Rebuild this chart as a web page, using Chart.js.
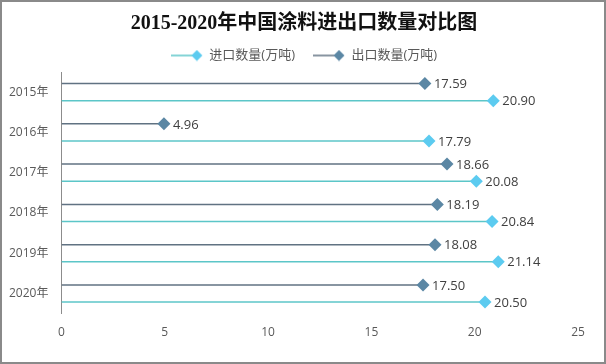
<!DOCTYPE html>
<html>
<head>
<meta charset="utf-8">
<script src="https://cdn.jsdelivr.net/npm/chart.js@4.4.1/dist/chart.umd.min.js"></script>
<style>
  body { margin: 0; background: #fff; }
  #wrap { width: 606px; height: 364px; box-sizing: border-box; border: 2px solid #8a8a8a; background: #fff; }
</style>
</head>
<body>
<div id="wrap"><canvas id="chart"></canvas></div>
<script>
// data
const years = ["2015年", "2016年", "2017年", "2018年", "2019年", "2020年"];
const importQty = [20.90, 17.79, 20.08, 20.84, 21.14, 20.50];
const exportQty = [17.59, 4.96, 18.66, 18.19, 18.08, 17.50];
const xTicks = [0, 5, 10, 15, 20, 25];

const IMPORT_LINE = "#5cc6c8";
const IMPORT_MARK = "#5ccbf0";
const EXPORT_LINE = "#607282";
const EXPORT_MARK = "#5b87a4";
const TEXT = "#595959";
const FONT = '"Open Sans", "Noto Sans CJK SC", sans-serif';

function drawDiamond(ctx, x, y, r, color) {
  ctx.beginPath();
  ctx.moveTo(x, y - r);
  ctx.lineTo(x + r, y);
  ctx.lineTo(x, y + r);
  ctx.lineTo(x - r, y);
  ctx.closePath();
  ctx.fillStyle = color;
  ctx.fill();
}

// little "line + diamond" picture for the legend
function legendIcon(lineColor, markColor) {
  const c = document.createElement("canvas");
  c.width = 32;
  c.height = 12;
  const g = c.getContext("2d");
  g.strokeStyle = lineColor;
  g.lineWidth = 1.5;
  g.beginPath();
  g.moveTo(0, 6);
  g.lineTo(26, 6);
  g.stroke();
  drawDiamond(g, 26, 6, 5.5, markColor);
  return c;
}

// diamonds + value labels at the end of every bar
const markerPlugin = {
  id: "markers",
  afterDatasetsDraw(chart) {
    const ctx = chart.ctx;
    ctx.save();
    chart.data.datasets.forEach((ds, i) => {
      const meta = chart.getDatasetMeta(i);
      if (meta.hidden) return;
      meta.data.forEach((bar, j) => {
        drawDiamond(ctx, bar.x, bar.y, 6.5, ds.markColor);
        ctx.fillStyle = "#404040";
        ctx.font = "13px " + FONT;
        ctx.textAlign = "left";
        ctx.textBaseline = "middle";
        ctx.fillText(ds.data[j].toFixed(2), bar.x + 9, bar.y + 1);
      });
    });
    ctx.restore();
  }
};

new Chart(document.getElementById("chart"), {
  type: "bar",
  data: {
    labels: years,
    datasets: [
      {
        label: "出口数量(万吨)",
        data: exportQty,
        backgroundColor: EXPORT_LINE,
        markColor: EXPORT_MARK,
        pointStyle: legendIcon(EXPORT_LINE, EXPORT_MARK),
        maxBarThickness: 1.5,
        categoryPercentage: 0.85,
        barPercentage: 1
      },
      {
        label: "进口数量(万吨)",
        data: importQty,
        backgroundColor: IMPORT_LINE,
        markColor: IMPORT_MARK,
        pointStyle: legendIcon(IMPORT_LINE, IMPORT_MARK),
        maxBarThickness: 1.5,
        categoryPercentage: 0.85,
        barPercentage: 1
      }
    ]
  },
  options: {
    indexAxis: "y",
    responsive: true,
    maintainAspectRatio: false,
    animation: false,
    layout: { padding: { left: 2, right: 0, top: 0, bottom: 18 } },
    plugins: {
      title: {
        display: true,
        text: "2015-2020年中国涂料进出口数量对比图",
        color: "#111",
        font: { family: '"Liberation Serif", "Noto Sans CJK SC", serif', size: 20, weight: "bold" },
        padding: { top: 10, bottom: -5 }
      },
      legend: {
        reverse: true,
        labels: {
          usePointStyle: true,
          pointStyleWidth: 32,
          color: TEXT,
          padding: 18,
          font: { family: FONT, size: 13 }
        }
      },
      tooltip: { enabled: false }
    },
    scales: {
      x: {
        min: xTicks[0],
        max: xTicks[xTicks.length - 1],
        afterBuildTicks: (axis) => { axis.ticks = xTicks.map(v => ({ value: v })); },
        grid: { display: false },
        border: { display: false },
        ticks: { color: TEXT, font: { family: FONT, size: 12 }, padding: 4 }
      },
      y: {
        grid: { display: false },
        border: { display: true, color: "#8c8c8c", width: 1 },
        ticks: { color: TEXT, font: { family: FONT, size: 12 }, padding: 5 }
      },
      // empty right-hand axis that only keeps a margin after the 25 tick
      yRight: {
        position: "right",
        display: true,
        grid: { display: false },
        border: { display: false },
        ticks: { display: false },
        afterFit: (axis) => { axis.width = 26; }
      }
    }
  },
  plugins: [markerPlugin]
});
</script>
</body>
</html>
